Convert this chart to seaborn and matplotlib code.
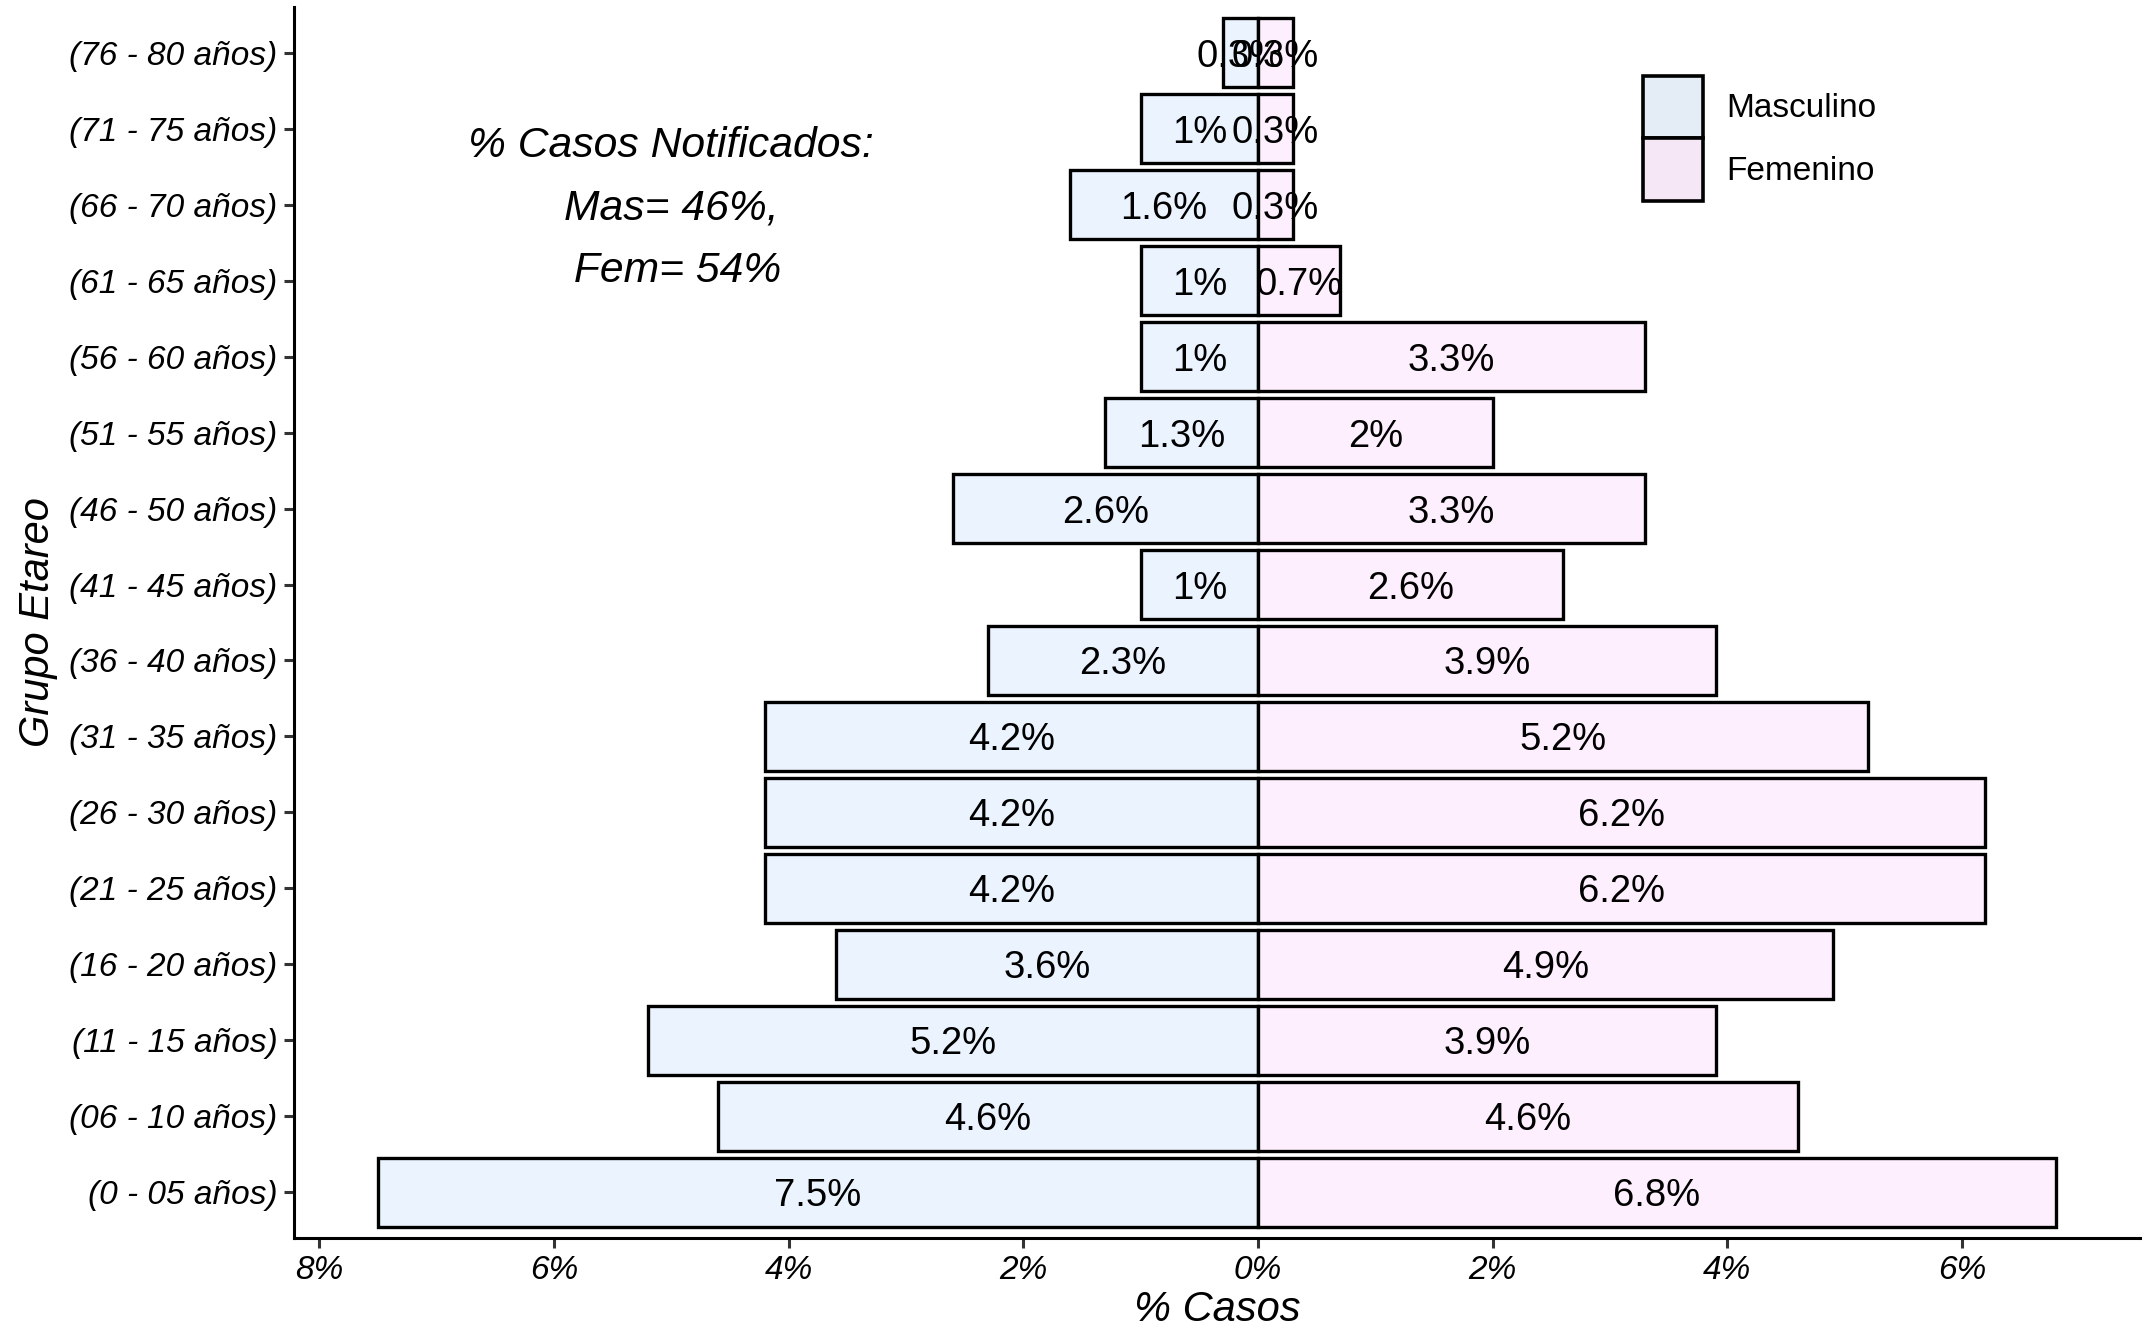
import matplotlib
matplotlib.use("Agg")
import matplotlib.pyplot as plt
from matplotlib.patches import Patch
import seaborn as sns
import pandas as pd

# ---- data (top to bottom) ----
grupos = ["(76 - 80 años)", "(71 - 75 años)", "(66 - 70 años)", "(61 - 65 años)",
          "(56 - 60 años)", "(51 - 55 años)", "(46 - 50 años)", "(41 - 45 años)",
          "(36 - 40 años)", "(31 - 35 años)", "(26 - 30 años)", "(21 - 25 años)",
          "(16 - 20 años)", "(11 - 15 años)", "(06 - 10 años)", "(0 - 05 años)"]
masculino = [0.3, 1.0, 1.6, 1.0, 1.0, 1.3, 2.6, 1.0, 2.3, 4.2, 4.2, 4.2, 3.6, 5.2, 4.6, 7.5]
femenino = [0.3, 0.3, 0.3, 0.7, 3.3, 2.0, 3.3, 2.6, 3.9, 5.2, 6.2, 6.2, 4.9, 3.9, 4.6, 6.8]
sexos = ["Masculino", "Femenino"]
x_ticks = [-8, -6, -4, -2, 0, 2, 4, 6]
anotacion = "% Casos Notificados:\nMas= 46%,\n Fem= 54%"

sns.set_theme(style="white")
plt.rcParams["font.family"] = ["Liberation Sans", "DejaVu Sans"]
plt.rcParams["text.color"] = "black"
plt.rcParams["axes.labelcolor"] = "black"
plt.rcParams["xtick.color"] = "black"
plt.rcParams["ytick.color"] = "black"

df = pd.DataFrame({
    "grupo": grupos * 2,
    "sexo": ["Masculino"] * len(grupos) + ["Femenino"] * len(grupos),
    "pct": masculino + femenino,
})
df["valor"] = df.apply(lambda r: -r["pct"] if r["sexo"] == "Masculino" else r["pct"], axis=1)

bar_cols = {"Masculino": "#EBF3FE", "Femenino": "#FDEFFD"}
leg_cols = {"Masculino": "#E4ECF6", "Femenino": "#F5E7F5"}

fig = plt.figure(figsize=(21.47, 13.30), dpi=100)
ax = fig.add_axes([0.137, 0.0692, 0.8596, 0.9255])

sns.barplot(data=df, x="valor", y="grupo", hue="sexo", order=grupos, hue_order=sexos,
            palette=bar_cols, dodge=False, width=0.9, edgecolor="black",
            linewidth=2.4, saturation=1, orient="h", legend=False, ax=ax)

def fmt(v):
    s = f"{v:.1f}".rstrip("0").rstrip(".")
    return s + "%"

for i, g in enumerate(grupos):
    m = masculino[i]
    f = femenino[i]
    ax.text(-m / 2, i, fmt(m), ha="center", va="center_baseline", fontsize=27.5, color="black")
    ax.text(f / 2, i, fmt(f), ha="center", va="center_baseline", fontsize=27.5, color="black")

ax.text(-5, grupos.index("(66 - 70 años)") + 0.05, anotacion, ha="center", va="center",
        fontsize=30.7, style="italic", linespacing=1.72, color="black")

ax.set_xlim(-8.215, 7.515)
ax.set_ylim(15.6, -0.6)
ax.set_xticks(x_ticks)
ax.set_xticklabels([f"{abs(t)}%" for t in x_ticks], fontsize=24, style="italic")
for lab in ax.get_yticklabels():
    lab.set_fontsize(24)
    lab.set_fontstyle("italic")
ax.set_xlabel("% Casos", fontsize=30, style="italic", labelpad=3)
ax.set_ylabel("Grupo Etareo", fontsize=30, style="italic", labelpad=8)

sns.despine(ax=ax)
for sp in ["left", "bottom"]:
    ax.spines[sp].set_linewidth(2.2)
    ax.spines[sp].set_color("black")
ax.tick_params(axis="both", which="both", length=7, width=2.2, color="#333333",
               pad=5, labelcolor="black", left=True, bottom=True)

handles = [Patch(facecolor=leg_cols[s], edgecolor="black", linewidth=2.6, label=s) for s in sexos]
fig.legend(handles=handles, loc="upper left", bbox_to_anchor=(0.7653, 0.9429),
           frameon=False, fontsize=24, handlelength=1.79, handleheight=2.5,
           labelspacing=0.0, handletextpad=0.7, borderpad=0, borderaxespad=0)

fig.savefig("out.png", dpi=100)
